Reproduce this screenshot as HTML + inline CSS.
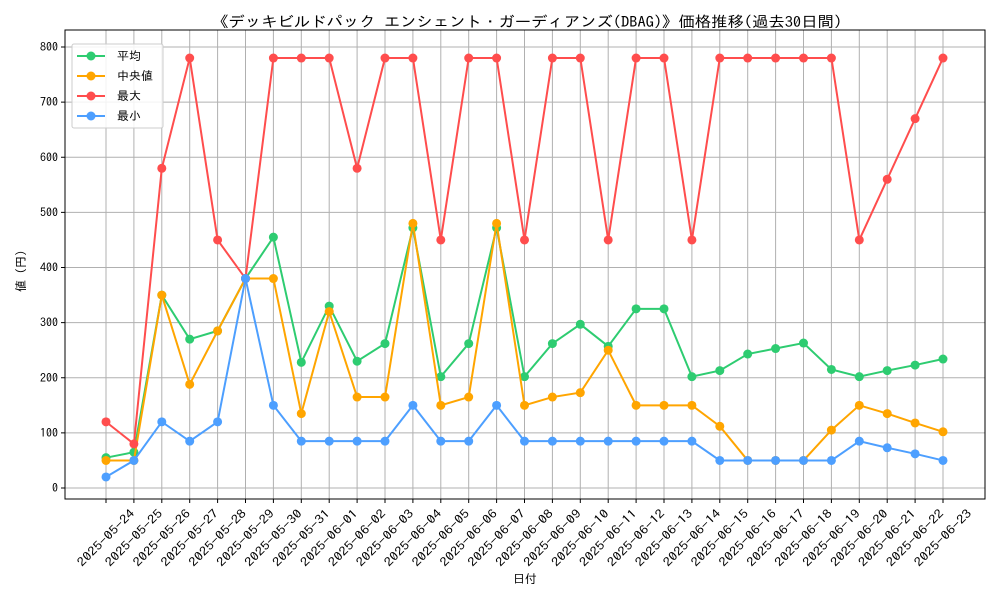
<!DOCTYPE html>
<html><head><meta charset="utf-8"><style>
body{margin:0;background:#fff}
svg text{font-family:"IPAGothic","Liberation Sans","Noto Sans CJK JP",sans-serif;fill:#000}
</style></head><body>
<svg id="chart" width="1000" height="600" xmlns="http://www.w3.org/2000/svg">
<text x="527" y="27" font-size="15" text-anchor="middle" textLength="630" lengthAdjust="spacingAndGlyphs">《デッキビルドパック エンシェント・ガーディアンズ(DBAG)》価格推移(過去30日間)</text>
<g id="grid"></g><g id="axes"></g><g id="series"></g>
<text x="525" y="583" font-size="12" text-anchor="middle">日付</text>
<text x="0" y="0" font-size="12" text-anchor="middle" transform="translate(25,268) rotate(-90)">値（円）</text>
</svg>
<script>
const dates=["2025-05-24","2025-05-25","2025-05-26","2025-05-27","2025-05-28","2025-05-29","2025-05-30","2025-05-31","2025-06-01","2025-06-02","2025-06-03","2025-06-04","2025-06-05","2025-06-06","2025-06-07","2025-06-08","2025-06-09","2025-06-10","2025-06-11","2025-06-12","2025-06-13","2025-06-14","2025-06-15","2025-06-16","2025-06-17","2025-06-18","2025-06-19","2025-06-20","2025-06-21","2025-06-22","2025-06-23"];
const avgValues=[55,65,350,270,285,380,455,228,330,230,262,472,202,262,472,202,262,297,257,325,325,202,213,243,253,263,215,202,213,223,234];
const medianValues=[50,50,350,188,285,380,380,135,320,165,165,480,150,165,480,150,165,173,250,150,150,150,112,50,50,50,105,150,135,118,102];
const maxValues=[120,80,580,780,450,380,780,780,780,580,780,780,450,780,780,450,780,780,450,780,780,450,780,780,780,780,780,450,560,670,780];
const minValues=[20,50,120,85,120,380,150,85,85,85,85,150,85,85,150,85,85,85,85,85,85,85,50,50,50,50,50,85,73,62,50];
const yTicks=[0,100,200,300,400,500,600,700,800];
const NS="http://www.w3.org/2000/svg";
const L=65,R=985,T=30,B=499;
const xS=i=>106+i*(943-106)/(dates.length-1);
const yS=v=>488-v*(488-47)/800;
function mk(tag,attrs,parent){const e=document.createElementNS(NS,tag);for(const k in attrs)e.setAttribute(k,attrs[k]);parent.appendChild(e);return e;}
const grid=document.getElementById('grid'),axes=document.getElementById('axes'),ser=document.getElementById('series');
dates.forEach((d,i)=>{
 const x=xS(i);
 const g=mk('line',{x1:x,x2:x,y1:T,y2:B,stroke:'#b0b0b0','stroke-width':1},grid);
 
 
 mk('line',{x1:x,x2:x,y1:B,y2:B+4,stroke:'#000'},axes);
 const t=mk('text',{x:0,y:4,'font-size':12,'text-anchor':'middle',textLength:75,lengthAdjust:'spacingAndGlyphs',transform:`translate(${x},538) rotate(-45)`},axes);
 t.textContent=d;
 
 
});
yTicks.forEach(v=>{
 const y=yS(v);
 const g=mk('line',{x1:L,x2:R,y1:y,y2:y,stroke:'#b0b0b0','stroke-width':1},grid);
 
 
 mk('line',{x1:L-4,x2:L,y1:y,y2:y,stroke:'#000'},axes);
 const t=mk('text',{x:L-7,y:y+4,'font-size':12,'text-anchor':'end'},axes);
 t.textContent=v;
 
 
});
const frame=mk('rect',{x:L,y:T,width:R-L,height:B-T,fill:'none',stroke:'#000','stroke-width':1},axes);


const series=[["avg",avgValues,"#2ecc71"],["median",medianValues,"#ffa500"],["max",maxValues,"#ff4d4d"],["min",minValues,"#4d9fff"]];
series.forEach(([n,vals,c])=>{
 const g=mk('g',{},ser);
 
 
 const p=mk('polyline',{points:vals.map((v,i)=>xS(i)+','+yS(v)).join(' '),fill:'none',stroke:c,'stroke-width':2},g);
 
 
 vals.forEach((v,i)=>{
  const d=mk('circle',{cx:xS(i),cy:yS(v),r:4.5,fill:c},g);
  
  
 });
});
const lg=mk('g',{},ser);


mk('rect',{x:72,y:44,width:91,height:84,fill:'#fff','fill-opacity':0.85,stroke:'#ccc',rx:2},lg);
[["平均","#2ecc71"],["中央値","#ffa500"],["最大","#ff4d4d"],["最小","#4d9fff"]].forEach(([lab,c],i)=>{
 const y=56+i*20;
 const e=mk('g',{},lg);
 
 
 mk('line',{x1:77,x2:105,y1:y,y2:y,stroke:c,'stroke-width':2},e);
 mk('circle',{cx:91,cy:y,r:4.5,fill:c},e);
 const t=mk('text',{x:117,y:y+4,'font-size':12},e);
 t.textContent=lab;
});
</script>
</body></html>
